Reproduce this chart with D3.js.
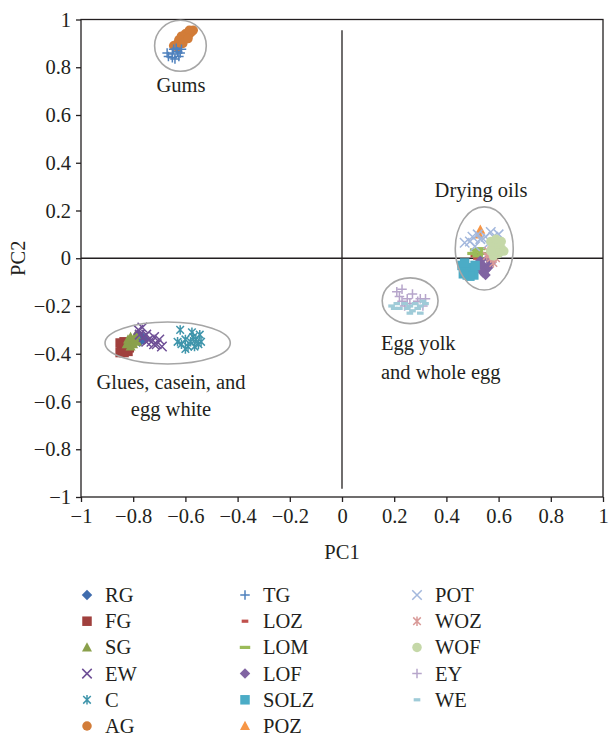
<!DOCTYPE html>
<html>
<head>
<meta charset="utf-8">
<script src="https://cdn.jsdelivr.net/npm/d3@7"></script>
<style>
  html, body { margin: 0; padding: 0; background: #fff; }
  svg text { font-family: "Liberation Serif", "DejaVu Serif", serif; fill: #231f20; }
</style>
</head>
<body>
<svg id="chart" width="611" height="739"></svg>
<script>
// ---- PCA scores (PC1, PC2) per sample group ----
const RG   = [[-0.78,-0.32],[-0.77,-0.34],[-0.765,-0.33],[-0.775,-0.35],[-0.76,-0.34]];
const FG   = [[-0.85,-0.355],[-0.845,-0.38],[-0.83,-0.37],[-0.82,-0.39],[-0.835,-0.35],[-0.815,-0.375],[-0.85,-0.395],[-0.835,-0.395]];
const SG   = [[-0.82,-0.34],[-0.81,-0.33],[-0.805,-0.35],[-0.8,-0.36],[-0.795,-0.34],[-0.79,-0.32],[-0.81,-0.37],[-0.825,-0.36],[-0.785,-0.35]];
const EW   = [[-0.78,-0.3],[-0.775,-0.32],[-0.765,-0.29],[-0.76,-0.33],[-0.75,-0.32],[-0.74,-0.34],[-0.73,-0.35],[-0.72,-0.33],[-0.71,-0.36],[-0.7,-0.34],[-0.69,-0.37],[-0.72,-0.36],[-0.75,-0.35]];
const C    = [[-0.62,-0.3],[-0.63,-0.35],[-0.615,-0.36],[-0.6,-0.34],[-0.59,-0.37],[-0.58,-0.35],[-0.57,-0.33],[-0.56,-0.34],[-0.55,-0.36],[-0.54,-0.35],[-0.545,-0.32],[-0.6,-0.38],[-0.565,-0.37],[-0.575,-0.31]];
const AG   = [[-0.645,0.89],[-0.635,0.895],[-0.625,0.905],[-0.62,0.91],[-0.61,0.915],[-0.605,0.92],[-0.6,0.925],[-0.595,0.93],[-0.59,0.935],[-0.585,0.94],[-0.58,0.945],[-0.575,0.95],[-0.57,0.955],[-0.6,0.94],[-0.615,0.93],[-0.625,0.915],[-0.585,0.955],[-0.63,0.885],[-0.61,0.9],[-0.59,0.92]];
const TG   = [[-0.67,0.86],[-0.665,0.845],[-0.65,0.855],[-0.645,0.875],[-0.64,0.835],[-0.63,0.865],[-0.625,0.845],[-0.62,0.86],[-0.65,0.84],[-0.615,0.875],[-0.635,0.88]];
const LOZ  = [[0.515,0.0],[0.525,0.015],[0.505,0.01]];
const LOM  = [[0.5,0.02],[0.51,0.035],[0.52,0.03],[0.52,0.01],[0.53,0.04],[0.54,0.02]];
const LOF  = [[0.53,-0.01],[0.54,-0.03],[0.55,-0.05],[0.56,-0.04],[0.54,-0.06],[0.57,-0.02],[0.56,0.0],[0.55,-0.07],[0.52,-0.04]];
const SOLZ = [[0.46,-0.03],[0.47,-0.05],[0.48,-0.07],[0.49,-0.04],[0.5,-0.06],[0.51,-0.03],[0.505,-0.07],[0.47,-0.02],[0.49,-0.075],[0.465,-0.065]];
const POZ  = [[0.53,0.12],[0.525,0.1]];
const POT  = [[0.47,0.065],[0.49,0.07],[0.5,0.09],[0.52,0.1],[0.53,0.08],[0.55,0.09],[0.57,0.11],[0.58,0.09],[0.6,0.1],[0.56,0.06],[0.51,0.05]];
const WOZ  = [[0.56,0.03],[0.57,0.0],[0.58,-0.02],[0.555,0.01],[0.59,0.0]];
const WOF  = [[0.57,0.07],[0.58,0.05],[0.59,0.03],[0.6,0.06],[0.61,0.04],[0.6,0.02],[0.62,0.03],[0.58,0.01],[0.57,0.03],[0.59,0.08],[0.61,0.07]];
const EY   = [[0.21,-0.14],[0.22,-0.16],[0.23,-0.13],[0.23,-0.18],[0.25,-0.17],[0.26,-0.19],[0.27,-0.15],[0.29,-0.18],[0.3,-0.17],[0.31,-0.2],[0.32,-0.17],[0.24,-0.2]];
const WE   = [[0.19,-0.2],[0.2,-0.21],[0.21,-0.19],[0.22,-0.21],[0.24,-0.19],[0.25,-0.21],[0.26,-0.2],[0.27,-0.22],[0.28,-0.19],[0.29,-0.21],[0.3,-0.2],[0.31,-0.18],[0.32,-0.19],[0.3,-0.23],[0.26,-0.23]];

const seriesNames  = ["RG","FG","SG","EW","C","AG","TG","LOZ","LOM","LOF","SOLZ","POZ","POT","WOZ","WOF","EY","WE"];
const seriesData   = [RG,FG,SG,EW,C,AG,TG,LOZ,LOM,LOF,SOLZ,POZ,POT,WOZ,WOF,EY,WE];
const seriesShape  = ["diamond","square","triangle","x","star","circle","plus","dash","longdash","diamond","square","triangle","x","star","circle","plus","dash"];
const seriesColor  = ["#3f6cad","#a0403d","#8aa04b","#6e4f96","#3f95ab","#d27c38","#4f81bd","#c0504d","#9bbb59","#8064a2","#4bacc6","#f79646","#a3b8dd","#d99a98","#c5d8a8","#b7a6cb","#9fcbd8"];

const xTicks = [-1,-0.8,-0.6,-0.4,-0.2,0,0.2,0.4,0.6,0.8,1];
const yTicks = [-1,-0.8,-0.6,-0.4,-0.2,0,0.2,0.4,0.6,0.8,1];

// cluster outlines: centre (PC1, PC2) and radii in PC units
const clusterNames = ["Gums","Drying oils","Egg yolk","Glues"];
const clusterCx = [-0.619, 0.545, 0.261, -0.668];
const clusterCy = [0.89, 0.041, -0.178, -0.355];
const clusterRx = [0.099, 0.111, 0.107, 0.24];
const clusterRy = [0.107, 0.174, 0.096, 0.088];

const svg = d3.select("#chart");
const x = d3.scaleLinear().domain([-1, 1]).range([81, 603]);
const y = d3.scaleLinear().domain([-1, 1]).range([497, 19.5]);
const fmt = d3.format("~g");
const FONT = 20.5;
const MS = 9.5;

// ---- marker shapes ----
function marker(g, shape, color, s) {
  const h = s / 2;
  if (shape === "diamond") {
    g.append("path").attr("d", `M0,${-h*1.1}L${h*1.1},0L0,${h*1.1}L${-h*1.1},0Z`).attr("fill", color);
  } else if (shape === "square") {
    g.append("rect").attr("x", -h).attr("y", -h).attr("width", s).attr("height", s).attr("fill", color);
  } else if (shape === "triangle") {
    g.append("path").attr("d", `M0,${-h*1.1}L${h*1.05},${h*0.85}L${-h*1.05},${h*0.85}Z`).attr("fill", color);
  } else if (shape === "circle") {
    g.append("circle").attr("r", h).attr("fill", color);
  } else if (shape === "x") {
    g.append("path").attr("d", `M${-h},${-h}L${h},${h}M${h},${-h}L${-h},${h}`).attr("stroke", color).attr("stroke-width", 1.5).attr("fill", "none");
  } else if (shape === "star") {
    g.append("path").attr("d", `M${-h*0.8},${-h*0.8}L${h*0.8},${h*0.8}M${h*0.8},${-h*0.8}L${-h*0.8},${h*0.8}M0,${-h}L0,${h}`).attr("stroke", color).attr("stroke-width", 1.5).attr("fill", "none");
  } else if (shape === "plus") {
    g.append("path").attr("d", `M${-h},0L${h},0M0,${-h}L0,${h}`).attr("stroke", color).attr("stroke-width", 1.5).attr("fill", "none");
  } else if (shape === "dash") {
    g.append("rect").attr("x", -h*0.7).attr("y", -1.6).attr("width", s*0.7).attr("height", 3.2).attr("fill", color);
  } else if (shape === "longdash") {
    g.append("rect").attr("x", -h*1.1).attr("y", -1.6).attr("width", s*1.1).attr("height", 3.2).attr("fill", color);
  }
}

// ---- frame and axes ----
svg.append("rect").attr("x", x(-1)).attr("y", y(1)).attr("width", x(1) - x(-1)).attr("height", y(-1) - y(1))
  .attr("fill", "none").attr("stroke", "#231f20").attr("stroke-width", 1.3);

const xAxis = svg.append("g").attr("transform", `translate(0,${y(-1)})`)
  .call(d3.axisBottom(x).tickValues(xTicks).tickFormat(fmt).tickSizeInner(5).tickSizeOuter(0).tickPadding(6));
const yAxis = svg.append("g").attr("transform", `translate(${x(-1)},0)`)
  .call(d3.axisLeft(y).tickValues(yTicks).tickFormat(fmt).tickSizeInner(5).tickSizeOuter(0).tickPadding(5));
[xAxis, yAxis].forEach(a => {
  a.select(".domain").remove();
  a.selectAll(".tick line").attr("stroke", "#231f20").attr("stroke-width", 1.3);
  a.selectAll(".tick text").attr("font-size", FONT).attr("font-family", "Liberation Serif").attr("fill", "#231f20");
});

// zero lines
svg.append("line").attr("x1", x(-1)).attr("x2", x(1)).attr("y1", y(0)).attr("y2", y(0))
  .attr("stroke", "#231f20").attr("stroke-width", 1.3);
svg.append("line").attr("x1", x(0)).attr("x2", x(0)).attr("y1", y(0.955)).attr("y2", y(-0.965))
  .attr("stroke", "#231f20").attr("stroke-width", 1.3);

// axis titles
svg.append("text").attr("x", x(0)).attr("y", 559).attr("text-anchor", "middle").attr("font-size", FONT).text("PC1");
svg.append("text").attr("transform", `translate(25,${y(0)}) rotate(-90)`).attr("text-anchor", "middle")
  .attr("font-size", FONT).text("PC2");

// ---- points ----
const pts = svg.append("g");
seriesData.forEach((data, i) => {
  data.forEach(d => {
    const g = pts.append("g").attr("transform", `translate(${x(d[0])},${y(d[1])})`);
    marker(g, seriesShape[i], seriesColor[i], MS);
  });
});

// ---- cluster outlines ----
clusterNames.forEach((n, i) => {
  svg.append("ellipse")
    .attr("cx", x(clusterCx[i])).attr("cy", y(clusterCy[i]))
    .attr("rx", x(clusterCx[i] + clusterRx[i]) - x(clusterCx[i]))
    .attr("ry", y(clusterCy[i] - clusterRy[i]) - y(clusterCy[i]))
    .attr("fill", "none").attr("stroke", "#a6a6a6").attr("stroke-width", 1.6);
});

// ---- cluster labels ----
const labels = [
  {t: "Gums", x: 181, y: 92, a: "middle"},
  {t: "Drying oils", x: 481, y: 197, a: "middle"},
  {t: "Egg yolk", x: 381, y: 350, a: "start"},
  {t: "and whole egg", x: 381, y: 379, a: "start"},
  {t: "Glues, casein, and", x: 171, y: 389, a: "middle"},
  {t: "egg white", x: 171, y: 416, a: "middle"}
];
labels.forEach(l => svg.append("text").attr("x", l.x).attr("y", l.y).attr("text-anchor", l.a)
  .attr("font-size", FONT).text(l.t));

// ---- legend ----
const colX = [87, 245, 417];
const rowY0 = 595, rowDy = 26.2;
seriesNames.forEach((n, i) => {
  const col = Math.floor(i / 6), row = i % 6;
  const g = svg.append("g").attr("transform", `translate(${colX[col]},${rowY0 + row * rowDy})`);
  marker(g, seriesShape[i], seriesColor[i], MS);
  g.append("text").attr("x", 18).attr("y", 0).attr("dy", "0.34em").attr("font-size", FONT).text(n);
});
</script>
</body>
</html>
